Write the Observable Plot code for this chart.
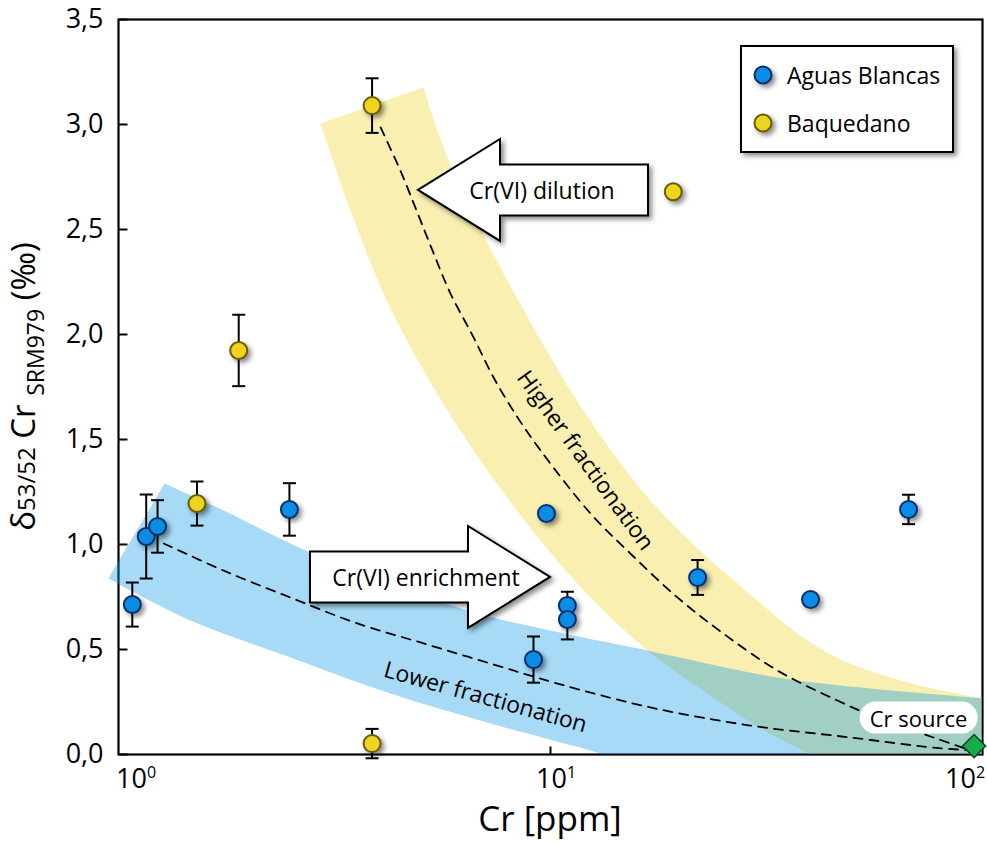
<!DOCTYPE html>
<html><head><meta charset="utf-8">
<script src="https://cdn.jsdelivr.net/npm/d3@7"></script>
<script src="https://cdn.jsdelivr.net/npm/@observablehq/plot@0.6"></script>
<style>
html,body{margin:0;padding:0;background:#fff;}
#chart{width:987px;height:842px;}
</style></head><body><div id="chart"></div>
<script>
// ---------- data ----------
const seriesNames = ["Aguas Blancas", "Baquedano"];

const abCr    = [1.01, 1.09, 1.16, 2.39, 9.78, 10.97, 10.97, 9.11, 22.4, 41.6, 71.2];
const abDelta = [0.714, 1.038, 1.086, 1.167, 1.148, 0.71, 0.643, 0.452, 0.843, 0.738, 1.167];
const abErr   = [0.105, 0.2, 0.125, 0.125, 0, 0.065, 0.095, 0.11, 0.083, 0, 0.07];

const bqCr    = [1.44, 1.81, 3.76, 3.76, 19.6];
const bqDelta = [1.195, 1.924, 3.09, 0.052, 2.68];
const bqErr   = [0.105, 0.17, 0.13, 0.07, 0];

const sourceLabel = ["Cr source"];
const sourceCr = [102];
const sourceDelta = [0.04];

const yTicks = [0, 0.5, 1, 1.5, 2, 2.5, 3, 3.5];
const xTicks = [1, 10, 100];
const xTickBase = ["10", "10", "10"];
const xTickExp = ["0", "1", "2"];
const xMinorTicks = [10];

// band outlines (run past the frame and get clipped)
const yellowBandCr    = [4.985, 5.686, 7.079, 9.110, 11.98, 17.30, 27.87, 44.67, 68.07, 106.8, 140, 140, 65, 41.59, 31.62, 24.98, 17.02, 12.45, 9.467, 6.813, 5.095, 4.004, 3.341, 2.834];
const yellowBandDelta = [3.176, 2.843, 2.438, 2.033, 1.638, 1.21, 0.814, 0.495, 0.352, 0.267, 0.22, -0.2, -0.2, 0, 0.124, 0.257, 0.495, 0.748, 1.019, 1.40, 1.795, 2.195, 2.59, 3.005];

const blueBandCr    = [1.205, 1.665, 2.683, 6.345, 10, 17.02, 35.87, 106.8, 140, 140, 31.6, 12.45, 7.197, 4.159, 2.404, 1.390, 0.886];
const blueBandDelta = [1.29, 1.162, 0.962, 0.686, 0.590, 0.495, 0.362, 0.267, 0.243, -0.2, -0.2, 0.019, 0.148, 0.29, 0.462, 0.638, 0.838];
// the blue band's tip that pokes out past the left frame
const blueTipCr    = [0.886, 0.9364, 0.9364];
const blueTipDelta = [0.838, 0.919, 0.814];

// dashed model curves
const higherCr    = [3.94, 4.39, 4.83, 5.27, 5.78, 6.56, 7.32, 8.35, 9.47, 12.45, 15.5, 20.05, 25.8, 34.7, 48.2, 62.1, 81.6, 100];
const higherDelta = [2.986, 2.781, 2.576, 2.386, 2.195, 1.986, 1.795, 1.605, 1.448, 1.148, 0.957, 0.748, 0.576, 0.40, 0.257, 0.162, 0.081, 0.02];
const lowerCr     = [1.2, 1.665, 2.4, 3.47, 4.99, 7.2, 10.39, 17.3, 29.9, 51.8, 81.6, 100];
const lowerDelta  = [1.005, 0.876, 0.748, 0.624, 0.529, 0.433, 0.338, 0.224, 0.138, 0.081, 0.033, 0.02];

// annotations
const bandLabels = ["Higher fractionation", "Lower fractionation"];
const bandLabelCr = [12.1, 7.0];
const bandLabelDelta = [1.40, 0.272];

const arrowLabels = ["Cr(VI) dilution", "Cr(VI) enrichment"];
const arrowTipCr = [4.85, 10];
const arrowTipDelta = [2.686, 0.843];
const arrowPointsLeft = [true, false];

// ---------- build tables ----------
const FONT = "'Open Sans', 'Noto Sans', sans-serif";
const zip = (xs, ys) => xs.map((x, i) => ({cr: x, delta: ys[i]}));
const ab = abCr.map((c, i) => ({series: seriesNames[0], cr: c, delta: abDelta[i], err: abErr[i]}));
const bq = bqCr.map((c, i) => ({series: seriesNames[1], cr: c, delta: bqDelta[i], err: bqErr[i]}));
const withErr = ab.concat(bq).filter(d => d.err > 0);
const source = sourceCr.map((c, i) => ({cr: c, delta: sourceDelta[i], label: sourceLabel[i]}));

const COLORS = {
  blue: "#0a8de6", blueStroke: "#0d2f6e",
  yellow: "#edd41f", yellowStroke: "#6e5b05",
};

const capSymbol = {draw(ctx) { ctx.moveTo(-6.5, 0); ctx.lineTo(6.5, 0); }};
const yTickSymbol = {draw(ctx) { ctx.moveTo(0, 0); ctx.lineTo(9, 0); }};
const xTickSymbol = {draw(ctx) { ctx.moveTo(0, 0); ctx.lineTo(0, -8); }};
const SHADOW = "drop-shadow(3px 3px 2.5px rgba(0,0,0,0.45))";

function decorations(index, scales, values, dim) {
  const sx = scales.x, sy = scales.y;
  const g = d3.create("svg:g").attr("font-family", FONT).attr("fill", "black").attr("text-anchor", "start");
  const left = dim.marginLeft, right = dim.width - dim.marginRight;
  const top = dim.marginTop, bottom = dim.height - dim.marginBottom;

  // arrows
  arrowLabels.forEach((label, i) => {
    const tx = sx(arrowTipCr[i]), ty = sy(arrowTipDelta[i]);
    const s = arrowPointsLeft[i] ? 1 : -1;
    const head = 82, hh = 51, sh = 25.5, len = arrowPointsLeft[i] ? 230 : 240;
    const pts = [[0,0],[s*head,-hh],[s*head,-sh],[s*len,-sh],[s*len,sh],[s*head,sh],[s*head,hh]];
    g.append("path")
      .attr("d", "M" + pts.map(p => (tx + p[0]) + "," + (ty + p[1])).join("L") + "Z")
      .attr("fill", "white").attr("stroke", "black").attr("stroke-width", 2)
      .style("filter", SHADOW);
    g.append("text").attr("x", tx + s * 124).attr("y", ty)
      .attr("text-anchor", "middle").attr("dominant-baseline", "central")
      .attr("font-size", 23).text(label);
  });

  // legend
  const lx = right - 241, ly = top + 27;
  g.append("rect").attr("x", lx).attr("y", ly).attr("width", 212).attr("height", 106)
    .attr("fill", "white").attr("stroke", "black").attr("stroke-width", 2).style("filter", SHADOW);
  const legendFill = [COLORS.blue, COLORS.yellow], legendStroke = [COLORS.blueStroke, COLORS.yellowStroke];
  seriesNames.forEach((name, i) => {
    const cy = ly + 29 + i * 48;
    g.append("circle").attr("cx", lx + 22).attr("cy", cy).attr("r", 8.5)
      .attr("fill", legendFill[i]).attr("stroke", legendStroke[i]).attr("stroke-width", 2).style("filter", SHADOW);
    g.append("text").attr("x", lx + 46).attr("y", cy).attr("dominant-baseline", "central")
      .attr("text-anchor", "start").attr("font-size", 23).text(name);
  });

  // Cr source pill
  source.forEach(d => {
    const px = sx(d.cr) - 55, py = sy(d.delta) - 28;
    g.append("rect").attr("x", px - 59).attr("y", py - 16).attr("width", 118).attr("height", 32)
      .attr("rx", 16).attr("fill", "white");
    g.append("text").attr("x", px).attr("y", py).attr("text-anchor", "middle")
      .attr("dominant-baseline", "central").attr("font-size", 22).text(d.label);
  });

  // x tick labels with superscripts (kept inside the page width)
  xTicks.forEach((t, i) => {
    const tx = Math.min(sx(t) - 14, dim.width - 42);
    const txt = g.append("text").attr("x", tx).attr("y", bottom + 34)
      .attr("text-anchor", "start").attr("font-size", 27);
    txt.append("tspan").text(xTickBase[i]);
    txt.append("tspan").attr("font-size", 16).attr("dy", -10).text(xTickExp[i]);
  });

  // x title
  g.append("text").attr("x", (left + right) / 2).attr("y", dim.height - 11)
    .attr("text-anchor", "middle").attr("font-size", 35).text("Cr [ppm]");

  // y title
  const yt = g.append("text")
    .attr("transform", `translate(${left - 83},${(top + bottom) / 2}) rotate(-90)`)
    .attr("text-anchor", "middle").attr("font-size", 33);
  yt.append("tspan").text("δ");
  yt.append("tspan").attr("font-size", 24).text("53/52");
  yt.append("tspan").text(" Cr ");
  yt.append("tspan").attr("font-size", 23).attr("dy", 9).text("SRM979");
  yt.append("tspan").attr("dy", -9).text(" (‰)");

  return g.node();
}

const chart = Plot.plot({
  width: 987, height: 842,
  marginTop: 19, marginBottom: 88, marginLeft: 118, marginRight: 5,
  x: {type: "log", domain: [0.9364, 106.8], axis: null},
  y: {domain: [0, 3.5], label: null},
  style: {fontFamily: FONT, fontSize: "26px", color: "black", background: "white"},
  marks: [
    Plot.frame({stroke: "black", strokeWidth: 2.2}),
    Plot.axisY(yTicks, {tickSize: 0, tickPadding: 15, label: null,
      tickFormat: d => d.toFixed(1).replace(".", ","), fontSize: 27}),
    Plot.dot(yTicks, {y: d => d, frameAnchor: "left", symbol: yTickSymbol, fill: "none", stroke: "black", strokeWidth: 2}),
    Plot.dot(xMinorTicks, {x: d => d, frameAnchor: "bottom", symbol: xTickSymbol, fill: "none", stroke: "black", strokeWidth: 2}),
    Plot.line(zip(yellowBandCr, yellowBandDelta), {x: "cr", y: "delta", fill: "rgb(238,215,60)", fillOpacity: 0.4,
      stroke: "none", curve: "catmull-rom", clip: true}),
    Plot.line(zip(blueBandCr, blueBandDelta), {x: "cr", y: "delta", fill: "rgb(0,150,230)", fillOpacity: 0.35,
      stroke: "none", curve: "catmull-rom", clip: true}),
    Plot.line(zip(blueTipCr, blueTipDelta), {x: "cr", y: "delta", fill: "rgb(0,150,230)", fillOpacity: 0.35,
      stroke: "none", curve: "linear"}),
    Plot.line(zip(higherCr, higherDelta), {x: "cr", y: "delta", stroke: "black", strokeWidth: 1.8,
      strokeDasharray: "9,7", curve: "catmull-rom"}),
    Plot.line(zip(lowerCr, lowerDelta), {x: "cr", y: "delta", stroke: "black", strokeWidth: 1.8,
      strokeDasharray: "9,7", curve: "catmull-rom"}),
    Plot.text([0], {x: () => bandLabelCr[0], y: () => bandLabelDelta[0], text: () => bandLabels[0],
      rotate: 54, fontSize: 23, fill: "black"}),
    Plot.text([1], {x: () => bandLabelCr[1], y: () => bandLabelDelta[1], text: () => bandLabels[1],
      rotate: 15.5, fontSize: 23, fill: "black"}),
    Plot.ruleX(withErr, {x: "cr", y1: d => d.delta - d.err, y2: d => d.delta + d.err, stroke: "black", strokeWidth: 2}),
    Plot.dot(withErr, {x: "cr", y: d => d.delta - d.err, symbol: capSymbol, fill: "none", stroke: "black", strokeWidth: 2}),
    Plot.dot(withErr, {x: "cr", y: d => d.delta + d.err, symbol: capSymbol, fill: "none", stroke: "black", strokeWidth: 2}),
    Plot.dot(bq, {x: "cr", y: "delta", r: 8.5, fill: COLORS.yellow, stroke: COLORS.yellowStroke, strokeWidth: 2, ariaDescription: "pts"}),
    Plot.dot(ab, {x: "cr", y: "delta", r: 8.5, fill: COLORS.blue, stroke: COLORS.blueStroke, strokeWidth: 2, ariaDescription: "pts"}),
    decorations,
    Plot.dot(source, {x: "cr", y: "delta", symbol: "diamond2", r: 10.4, fill: "#1aab4a", stroke: "#0c4a20", strokeWidth: 1.5})
  ]
});
d3.select(chart).selectAll('g[aria-description="pts"]').style("filter", SHADOW);
document.getElementById("chart").appendChild(chart);
</script></body></html>
